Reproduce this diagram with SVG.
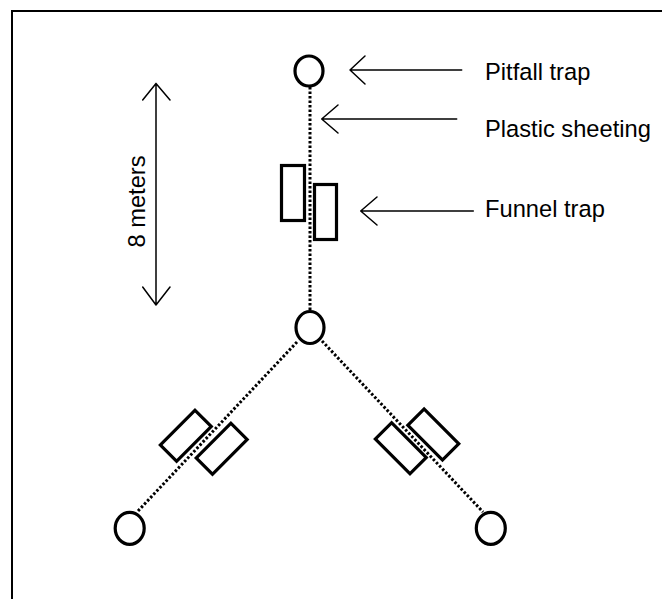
<svg xmlns="http://www.w3.org/2000/svg" width="662" height="599" viewBox="0 0 662 599">
  <style>
    .trap { fill: #fff; stroke: #000; stroke-width: 3.2; }
    .sheet { fill: none; stroke: #000; stroke-width: 3; stroke-dasharray: 2.5 2; }
    .arrow { fill: none; stroke: #000; stroke-width: 1.5; stroke-linecap: round; stroke-linejoin: round; }
    .label { font-family: "Liberation Sans", Arial, sans-serif; font-size: 23.7px; fill: #000; }
  </style>
  <rect width="662" height="599" fill="#fff"/>
  <rect x="12" y="11" width="700" height="700" fill="none" stroke="#000" stroke-width="2"/>

  <g id="connectors">
    <line class="sheet" x1="310" y1="87" x2="310" y2="311"/>
    <line class="sheet" x1="297" y1="342" x2="138" y2="511"/>
    <line class="sheet" x1="322" y1="341" x2="483" y2="512"/>
  </g>

  <g id="funnel-center">
    <rect class="trap" x="281.5" y="165.5" width="23" height="55"/>
    <rect class="trap" x="314.5" y="184.5" width="22" height="55"/>
  </g>
  <g id="funnel-left">
    <rect class="trap" x="-24.5" y="-11.5" width="49" height="23" transform="translate(185.8,435.8) rotate(-45)"/>
    <rect class="trap" x="-24.5" y="-11.5" width="49" height="23" transform="translate(221.7,448.8) rotate(-45)"/>
  </g>
  <g id="funnel-right">
    <rect class="trap" x="-24.5" y="-11.5" width="49" height="23" transform="translate(400.8,448.3) rotate(45)"/>
    <rect class="trap" x="-24.5" y="-11.5" width="49" height="23" transform="translate(433.3,434.5) rotate(45)"/>
  </g>

  <g id="pitfall-top"><ellipse class="trap" cx="309" cy="71" rx="14" ry="15"/></g>
  <g id="pitfall-center"><ellipse class="trap" cx="310" cy="327.5" rx="14" ry="16"/></g>
  <g id="pitfall-left"><ellipse class="trap" cx="129.7" cy="528.3" rx="14.5" ry="16"/></g>
  <g id="pitfall-right"><ellipse class="trap" cx="490.8" cy="528.3" rx="14.5" ry="16"/></g>

  <g id="label-pitfall">
    <path class="arrow" d="M461.7,70 H350 M365,56 L350,70 L365,84"/>
    <text class="label" x="485" y="80">Pitfall trap</text>
  </g>
  <g id="label-plastic">
    <path class="arrow" d="M456.7,119 H321.7 M338,105 L321.7,119 L338,133"/>
    <text class="label" x="485" y="136.7">Plastic sheeting</text>
  </g>
  <g id="label-funnel">
    <path class="arrow" d="M473.3,211 H360.7 M377,197 L360.7,211 L377,225"/>
    <text class="label" x="485" y="216.7">Funnel trap</text>
  </g>

  <g id="scale">
    <path class="arrow" d="M156,83.5 V305 M142.7,100 L156,83.5 L170,100 M142.7,287 L156,305 L170,287"/>
    <text class="label" text-anchor="middle" transform="translate(145,201.5) rotate(-90)">8 meters</text>
  </g>
</svg>
